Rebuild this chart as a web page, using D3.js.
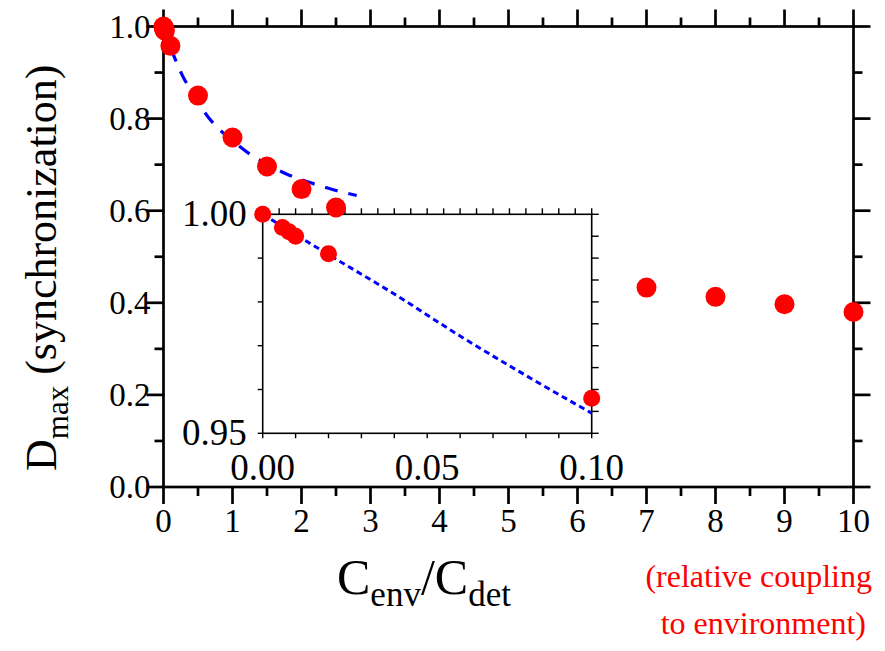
<!DOCTYPE html>
<html>
<head>
<meta charset="utf-8">
<script src="https://cdn.jsdelivr.net/npm/d3@7"></script>
<style>
  html, body { margin: 0; padding: 0; background: #fff; }
  svg { display: block; font-family: "Liberation Serif", "Times New Roman", serif; }
</style>
</head>
<body>
<svg id="chart" width="885" height="651"></svg>
<script>
// Measured maximum synchronization vs. relative coupling
const couplingRatio = [0, 0.006, 0.008, 0.01, 0.02, 0.1, 0.5, 1, 1.5, 2, 2.5, 7, 8, 9, 10];
const dMax          = [1.0, 0.997, 0.996, 0.995, 0.991, 0.958, 0.850, 0.759, 0.696, 0.647, 0.607, 0.433, 0.413, 0.397, 0.380];

// Model curve (main panel, dashed)
const modelX = [0, 0.1, 0.2, 0.3, 0.4, 0.5, 0.6, 0.8, 1.0, 1.25, 1.5, 1.75, 2.0, 2.25, 2.5, 2.8];
const modelY = [1.0, 0.956, 0.918, 0.886, 0.862, 0.838, 0.813, 0.778, 0.752, 0.723, 0.701, 0.682, 0.667, 0.655, 0.644, 0.633];

// Small-coupling model curve (inset, dotted)
const insetModelX = [0, 0.02, 0.04, 0.06, 0.08, 0.1];
const insetModelY = [1.0, 0.9908, 0.9818, 0.9722, 0.9632, 0.9546];

// Tick labels
const xTickLabels = ["0","1","2","3","4","5","6","7","8","9","10"];
const yTickLabels = ["0.0","0.2","0.4","0.6","0.8","1.0"];
const insetXTickLabels = ["0.00","0.05","0.10"];
const insetYTickLabels = ["0.95","1.00"];

const svg = d3.select("#chart");

// ---- main panel ----
const x = d3.scaleLinear().domain([0, 10]).range([163.5, 853.5]);
const y = d3.scaleLinear().domain([0, 1]).range([487, 26.5]);
const axisW = 2.7;

function drawTicks(g, values, len, orient, scale, pos) {
  values.forEach(v => {
    const p = scale(v);
    let l;
    if (orient === "bottom") l = [p, pos, p, pos + len];
    if (orient === "top")    l = [p, pos, p, pos - len];
    if (orient === "left")   l = [pos, p, pos - len, p];
    if (orient === "right")  l = [pos, p, pos + len, p];
    g.append("line").attr("x1", l[0]).attr("y1", l[1]).attr("x2", l[2]).attr("y2", l[3]);
  });
}

const main = svg.append("g").attr("stroke", "#000").attr("stroke-width", axisW);
main.append("rect")
  .attr("x", x(0)).attr("y", y(1))
  .attr("width", x(10) - x(0)).attr("height", y(0) - y(1))
  .attr("fill", "none");

const xMaj = d3.range(0, 11, 1), xMin = d3.range(0.5, 10, 1);
const yMaj = d3.range(0, 1.01, 0.2), yMin = d3.range(0.1, 1, 0.2);
drawTicks(main, xMaj, 17, "bottom", x, y(0));
drawTicks(main, xMin, 9, "bottom", x, y(0));
drawTicks(main, xMaj, 17, "top", x, y(1));
drawTicks(main, xMin, 9, "top", x, y(1));
drawTicks(main, yMaj, 17, "left", y, x(0));
drawTicks(main, yMin, 9, "left", y, x(0));
drawTicks(main, yMaj, 17, "right", y, x(10));
drawTicks(main, yMin, 9, "right", y, x(10));

const tickFont = 33;
svg.append("g").selectAll("text").data(xMaj).join("text")
  .attr("x", d => x(d)).attr("y", y(0) + 45)
  .attr("text-anchor", "middle").attr("font-size", tickFont)
  .text((d, i) => xTickLabels[i]);

svg.append("g").selectAll("text").data(yMaj).join("text")
  .attr("x", x(0) - 13).attr("y", d => y(d) + 11)
  .attr("text-anchor", "end").attr("font-size", tickFont)
  .text((d, i) => yTickLabels[i]);

// main model curve
const mainLine = d3.line().x(d => x(d[0])).y(d => y(d[1])).curve(d3.curveMonotoneX);
svg.append("path")
  .datum(modelX.map((v, i) => [v, modelY[i]]))
  .attr("d", mainLine)
  .attr("fill", "none").attr("stroke", "#0000ff")
  .attr("stroke-width", 3.2).attr("stroke-dasharray", "13,11");

// ---- inset ----
const ix = d3.scaleLinear().domain([0, 0.1]).range([262.7, 591.7]);
const iy = d3.scaleLinear().domain([0.95, 1.0]).range([433.3, 214.3]);

const inset = svg.append("g");
inset.append("rect")
  .attr("x", ix(0)).attr("y", iy(1))
  .attr("width", ix(0.1) - ix(0)).attr("height", iy(0.95) - iy(1))
  .attr("fill", "#fff").attr("stroke", "#000").attr("stroke-width", 1.6);

const it = inset.append("g").attr("stroke", "#000").attr("stroke-width", 1.4);
drawTicks(it, d3.range(0, 0.1001, 0.01), 5, "bottom", ix, iy(0.95));
drawTicks(it, d3.range(0, 0.1001, 0.005), 6, "top", ix, iy(1));
drawTicks(it, d3.range(0.95, 1.0001, 0.01), 5, "left", iy, ix(0));
drawTicks(it, d3.range(0.95, 1.0001, 0.005), 7, "right", iy, ix(0.1));

const insetFont = 37;
inset.selectAll("text.ixl").data([0, 0.05, 0.1]).join("text")
  .attr("class", "ixl")
  .attr("x", d => ix(d)).attr("y", iy(0.95) + 47)
  .attr("text-anchor", "middle").attr("font-size", insetFont)
  .text((d, i) => insetXTickLabels[i]);
inset.selectAll("text.iyl").data([0.95, 1.0]).join("text")
  .attr("class", "iyl")
  .attr("x", ix(0) - 16).attr("y", d => iy(d) + 12)
  .attr("text-anchor", "end").attr("font-size", insetFont)
  .text((d, i) => insetYTickLabels[i]);

const insetLine = d3.line().x(d => ix(d[0])).y(d => iy(d[1])).curve(d3.curveMonotoneX);
inset.append("path")
  .datum(insetModelX.map((v, i) => [v, insetModelY[i]]))
  .attr("d", insetLine)
  .attr("fill", "none").attr("stroke", "#0000ff")
  .attr("stroke-width", 3).attr("stroke-dasharray", "6,4");

const insetPts = couplingRatio.map((v, i) => [v, dMax[i]]).filter(d => d[0] <= 0.1);
inset.selectAll("circle").data(insetPts).join("circle")
  .attr("cx", d => ix(d[0])).attr("cy", d => iy(d[1]))
  .attr("r", 8.5).attr("fill", "#ff0000");

// ---- main data points ----
svg.append("g").selectAll("circle")
  .data(couplingRatio.map((v, i) => [v, dMax[i]]))
  .join("circle")
  .attr("cx", d => x(d[0])).attr("cy", d => y(d[1]))
  .attr("r", 10).attr("fill", "#ff0000");

// ---- axis titles ----
const xt = svg.append("text")
  .attr("x", 337).attr("y", 594).attr("font-size", 50);
xt.append("tspan").text("C");
xt.append("tspan").attr("font-size", 35).attr("dy", 12).text("env");
xt.append("tspan").attr("dy", -12).text("/C");
xt.append("tspan").attr("font-size", 35).attr("dy", 12).text("det");

const yt = svg.append("text")
  .attr("transform", "translate(56,471) rotate(-90)")
  .attr("font-size", 44);
yt.append("tspan").text("D");
yt.append("tspan").attr("font-size", 31).attr("dy", 12).text("max");
yt.append("tspan").attr("dy", -12).text(" (synchronization)");

const note = svg.append("g").attr("fill", "#ff0000")
  .attr("font-size", 32).attr("text-anchor", "end");
note.append("text").attr("x", 872).attr("y", 587).text("(relative coupling");
note.append("text").attr("x", 866).attr("y", 634).text("to environment)");
</script>
</body>
</html>
